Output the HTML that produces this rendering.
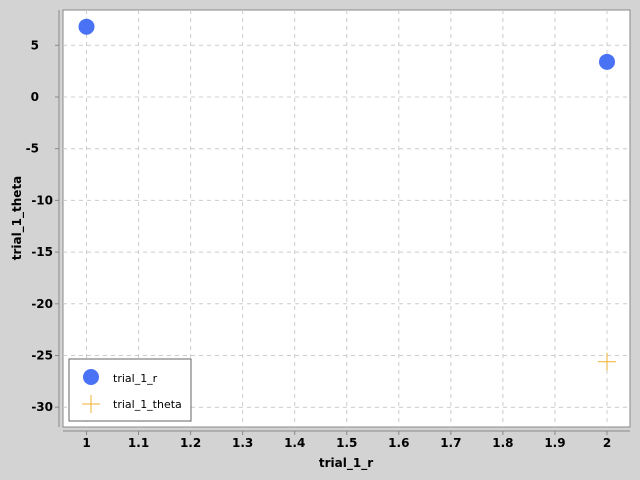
<!DOCTYPE html>
<html><head><meta charset="utf-8"><style>
html,body{margin:0;padding:0;width:640px;height:480px;overflow:hidden;background:#d3d3d3;}
svg{display:block;}
svg text{font-family:"DejaVu Sans","Liberation Sans",sans-serif;}
</style></head><body>
<svg id="chart" width="640" height="480" xmlns="http://www.w3.org/2000/svg">
<rect x="0" y="0" width="640" height="480" fill="#d3d3d3"/>
<rect x="63" y="10" width="567" height="417" fill="#fff" stroke="#888"/>
<g id="grid"></g>
<g id="axes"></g>
<g id="marks"></g>
<text x="346" y="467" text-anchor="middle" font-size="12" font-weight="bold">trial_1_r</text>
<text transform="translate(21,218) rotate(-90)" text-anchor="middle" font-size="12" font-weight="bold">trial_1_theta</text>
<g>
<rect x="69" y="359" width="122" height="62" fill="#fff" stroke="#666"/>
<circle cx="91" cy="377" r="8" fill="#4a72f5"/>
<text x="113" y="382" font-size="11">trial_1_r</text>
<path d="M82 404H100M91 395V413" stroke="#f0b030" stroke-width="1"/>
<text x="113" y="408" font-size="11">trial_1_theta</text>
</g>
</svg>
<script>
const rX = [1, 2];
const rY = [6.8, 3.4];
const thetaX = [2];
const thetaY = [-25.6];
const xTicks = [1,1.1,1.2,1.3,1.4,1.5,1.6,1.7,1.8,1.9,2];
const xTickLabels = ["1","1.1","1.2","1.3","1.4","1.5","1.6","1.7","1.8","1.9","2"];
const yTicks = [5,0,-5,-10,-15,-20,-25,-30];
const yTickLabels = ["5","0","-5","-10","-15","-20","-25","-30"];

const NS="http://www.w3.org/2000/svg";
function sx(v){return 86.5+(v-1)*520.5;}
function sy(v){return 97-v*10.34;}
function mk(tag,attrs,parent){const e=document.createElementNS(NS,tag);for(const k in attrs)e.setAttribute(k,attrs[k]);parent.appendChild(e);return e;}
const grid=document.getElementById('grid'),axes=document.getElementById('axes'),marks=document.getElementById('marks');
mk('line',{x1:59,y1:10,x2:59,y2:427,stroke:'#888'},axes);
mk('line',{x1:63,y1:431,x2:630,y2:431,stroke:'#888'},axes);
xTicks.forEach((t,i)=>{
  const x=sx(t);
  const g=mk('line',{x1:x,y1:10,x2:x,y2:427,stroke:'#ccc','stroke-dasharray':'4 4'},grid);
  
  
  mk('line',{x1:x,y1:431,x2:x,y2:435,stroke:'#888'},axes);
  const tx=mk('text',{x:x,y:447,'text-anchor':'middle','font-size':'12','font-weight':'bold'},axes);
  tx.textContent=xTickLabels[i];
  
  
});
yTicks.forEach((t,i)=>{
  const y=sy(t);
  const g=mk('line',{x1:63,y1:y,x2:630,y2:y,stroke:'#ccc','stroke-dasharray':'4 4'},grid);
  
  
  mk('line',{x1:55,y1:y,x2:59,y2:y,stroke:'#888'},axes);
  const lbl=yTickLabels[i];
  const tx=mk('text',{x:lbl.length>=3?53:39,y:y+4,'text-anchor':'end','font-size':'12','font-weight':'bold'},axes);
  tx.textContent=lbl;
  
  
});
rX.forEach((v,i)=>{
  const c=mk('circle',{cx:sx(v),cy:sy(rY[i]),r:8,fill:'#4a72f5'},marks);
  
  
});
thetaX.forEach((v,i)=>{
  const x=sx(v),y=sy(thetaY[i]);
  const p=mk('path',{d:`M${x-9} ${y}H${x+9}M${x} ${y-9}V${y+9}`,stroke:'#f0b030','stroke-width':1},marks);
  
  
});
</script>
</body></html>
